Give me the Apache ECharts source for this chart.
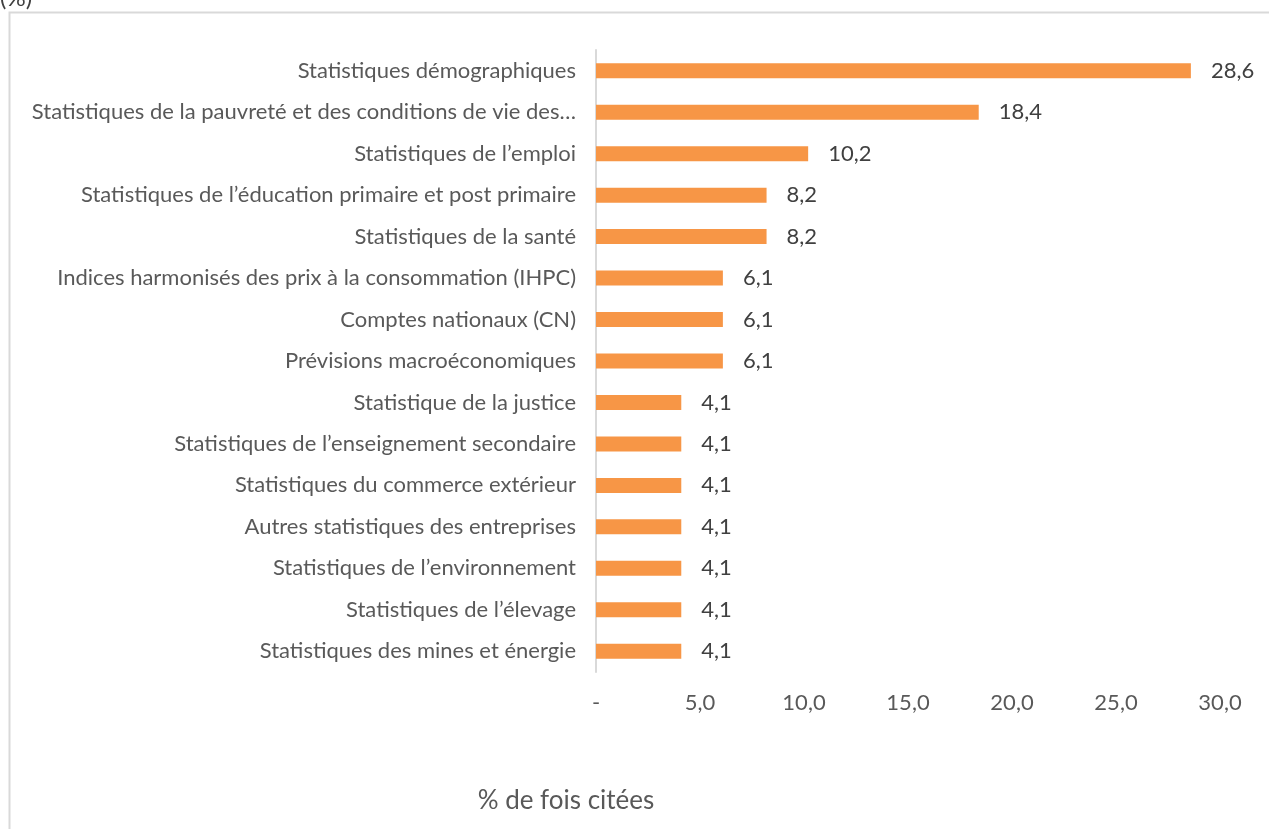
<!DOCTYPE html>
<html>
<head>
    <meta charset="UTF-8">
    <title></title>
    <style type="text/css">
        body { margin: 0; background: #fff; }
        #mychart { width: 1269px; height: 829px; }
    </style>
</head>
<body>
<div id='mychart'></div>
<script src='https://cdn.jsdelivr.net/npm/echarts@6/dist/echarts.min.js'></script>
<script>
    var categories = [
        'Statistiques démographiques',
        'Statistiques de la pauvreté et des conditions de vie des…',
        'Statistiques de l’emploi',
        'Statistiques de l’éducation primaire et post primaire',
        'Statistiques de la santé',
        'Indices harmonisés des prix à la consommation (IHPC)',
        'Comptes nationaux (CN)',
        'Prévisions macroéconomiques',
        'Statistique de la justice',
        'Statistiques de l’enseignement secondaire',
        'Statistiques du commerce extérieur',
        'Autres statistiques des entreprises',
        'Statistiques de l’environnement',
        'Statistiques de l’élevage',
        'Statistiques des mines et énergie'
    ];
    var values = [28.6, 18.4, 10.2, 8.2, 8.2, 6.1, 6.1, 6.1, 4.1, 4.1, 4.1, 4.1, 4.1, 4.1, 4.1];
    var xTicks = [0, 5, 10, 15, 20, 25, 30];
    var axisName = '% de fois citées';
    var unitText = '(%)';

    var font = 'Lato, "Open Sans", sans-serif';
    var myChart = echarts.init(document.getElementById('mychart'));

    var option = {
        animation: false,
        textStyle: {fontFamily: font},
        grid: {left: 596, right: 49, top: 50, bottom: 157, containLabel: false},
        graphic: [
            {
                type: 'rect',
                shape: {x: 9.5, y: 12.5, width: 1400, height: 1000},
                style: {fill: 'none', stroke: '#d9d9d9', lineWidth: 2},
                silent: true
            },
            {
                type: 'text', left: 0, top: -14,
                style: {text: unitText, font: '24px ' + font, fill: '#404040'}
            },
            {
                type: 'text', x: 566, y: 801,
                style: {text: axisName, font: '26px ' + font, fill: '#595959', align: 'center', verticalAlign: 'middle'}
            }
        ],
        xAxis: {
            type: 'value',
            min: xTicks[0],
            max: xTicks[xTicks.length - 1],
            interval: 5,
            axisLine: {show: false},
            axisTick: {show: false},
            splitLine: {show: false},
            axisLabel: {
                margin: 20,
                fontSize: 22,
                color: '#595959',
                fontFamily: font,
                formatter: function (v) {
                    return v === 0 ? '-' : v.toFixed(1).replace('.', ',');
                }
            }
        },
        yAxis: {
            type: 'category',
            inverse: true,
            data: categories,
            axisLine: {show: true, lineStyle: {color: '#d9d9d9', width: 2}},
            axisTick: {show: false},
            splitLine: {show: false},
            axisLabel: {
                margin: 20,
                fontSize: 22,
                color: '#595959',
                fontFamily: font
            }
        },
        series: [{
            type: 'bar',
            data: values,
            barWidth: 15,
            itemStyle: {color: '#f79646'},
            label: {
                show: true,
                position: 'right',
                distance: 20,
                fontSize: 22,
                color: '#404040',
                fontFamily: font,
                formatter: function (p) {
                    return p.value.toFixed(1).replace('.', ',');
                }
            }
        }]
    };

    myChart.setOption(option);
</script>
</body>
</html>
